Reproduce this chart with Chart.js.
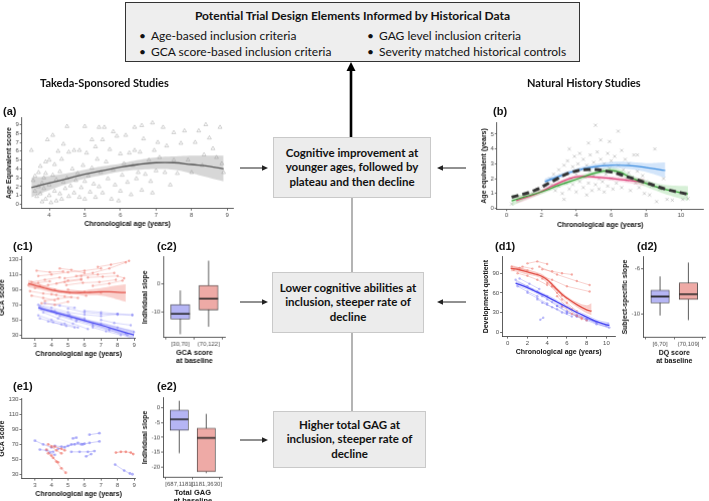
<!DOCTYPE html>
<html>
<head>
<meta charset="utf-8">
<title>Historical data and trial design</title>
<script src="https://cdn.jsdelivr.net/npm/chart.js@4.4.1/dist/chart.umd.min.js"></script>
<style>
  body { margin: 0; width: 709px; height: 501px; position: relative; overflow: hidden; background: #fff; font-family: Lato, 'Open Sans', sans-serif; color: #111; }
  canvas { position: absolute; }
  #arrows { position: absolute; left: 0; top: 0; }
  .box { position: absolute; box-sizing: border-box; background: #ececec; border: 1px solid #c9c9c9; font-weight: bold; font-size: 11.5px; line-height: 14.5px; text-align: center; display: flex; align-items: center; justify-content: center; }
  #top { position: absolute; left: 125px; top: 2px; width: 455px; height: 60px; box-sizing: border-box; background: #eeeeee; border: 1.5px solid #333; }
  #top .title { position: absolute; left: 0; right: 0; top: 4.5px; text-align: center; font-weight: bold; font-size: 12px; }
  #top .item { position: absolute; font-size: 12px; white-space: nowrap; }
  #top .item:before { content: '\2022'; position: absolute; left: -12px; }
  .lbl { position: absolute; font-family: 'Liberation Sans', Arial, sans-serif; font-weight: bold; font-size: 11px; line-height: 12px; }
  .head { position: absolute; font-weight: bold; font-size: 11px; white-space: nowrap; }
</style>
</head>
<body>
<canvas id="pa"></canvas>
<canvas id="pb"></canvas>
<canvas id="pc1"></canvas>
<canvas id="pc2"></canvas>
<canvas id="pd1"></canvas>
<canvas id="pd2"></canvas>
<canvas id="pe1"></canvas>
<canvas id="pe2"></canvas>

<svg id="arrows" width="709" height="501">
  <line x1="351" y1="137" x2="351" y2="70" stroke="#000" stroke-width="2.6"/>
  <polygon points="351,62 346.5,71 355.5,71" fill="#000"/>
  <line x1="352" y1="198" x2="352" y2="272" stroke="#8c8c8c" stroke-width="1.3"/>
  <line x1="352" y1="333" x2="352" y2="411" stroke="#8c8c8c" stroke-width="1.3"/>
  <line x1="240" y1="168" x2="263" y2="168" stroke="#222" stroke-width="1"/>
  <polygon points="268,168 262,165.3 262,170.7" fill="#222"/>
  <line x1="240" y1="302" x2="263" y2="302" stroke="#222" stroke-width="1"/>
  <polygon points="268,302 262,299.3 262,304.7" fill="#222"/>
  <line x1="240" y1="440" x2="263" y2="440" stroke="#222" stroke-width="1"/>
  <polygon points="268,440 262,437.3 262,442.7" fill="#222"/>
  <line x1="466" y1="168" x2="442" y2="168" stroke="#222" stroke-width="1"/>
  <polygon points="437,168 443,165.3 443,170.7" fill="#222"/>
  <line x1="466" y1="302" x2="442" y2="302" stroke="#222" stroke-width="1"/>
  <polygon points="437,302 443,299.3 443,304.7" fill="#222"/>
</svg>

<div id="top">
  <div class="title">Potential Trial Design Elements Informed by Historical Data</div>
  <div class="item" style="left:25px; top:25px;">Age-based inclusion criteria</div>
  <div class="item" style="left:25px; top:41px;">GCA score-based inclusion criteria</div>
  <div class="item" style="left:253px; top:25px;">GAG level inclusion criteria</div>
  <div class="item" style="left:253px; top:41px;">Severity matched historical controls</div>
</div>

<div class="head" style="left:40px; top:76px;">Takeda-Sponsored Studies</div>
<div class="head" style="left:527px; top:76px;">Natural History Studies</div>

<div class="box" style="left:273px; top:137px; width:158px; height:61px;">Cognitive improvement at<br>younger ages, followed by<br>plateau and then decline</div>
<div class="box" style="left:272px; top:272px; width:152px; height:61px;">Lower cognitive abilities at<br>inclusion, steeper rate of<br>decline</div>
<div class="box" style="left:273px; top:411px; width:153px; height:57px;">Higher total GAG at<br>inclusion, steeper rate of<br>decline</div>

<div class="lbl" style="left:3px; top:105px;">(a)</div>
<div class="lbl" style="left:493px; top:105px;">(b)</div>
<div class="lbl" style="left:13px; top:240px;">(c1)</div>
<div class="lbl" style="left:157px; top:240px;">(c2)</div>
<div class="lbl" style="left:495px; top:240px;">(d1)</div>
<div class="lbl" style="left:637px; top:240px;">(d2)</div>
<div class="lbl" style="left:13px; top:380px;">(e1)</div>
<div class="lbl" style="left:157px; top:380px;">(e2)</div>

<script>
// ---------- (a) Takeda studies: age equivalent score ----------
const aPoints = [[3.5,6.1],[3.55,2.7],[3.6,3.2],[3.6,1.5],[3.65,0.9],[3.7,2.0],[3.7,3.6],[3.75,1.2],[3.75,4.3],[3.8,0.3],
  [3.8,2.4],[3.85,3.0],[3.85,1.8],[3.9,4.8],[3.9,0.6],[3.9,3.5],[3.95,7.3],[4.0,2.2],[4.0,1.0],[4.0,5.0],[4.05,0.2],
  [4.1,3.3],[4.1,7.8],[4.15,1.5],[4.15,4.5],[4.2,2.8],[4.2,0.4],[4.25,6.0],[4.3,1.2],[4.3,3.7],[4.35,0.6],[4.35,5.1],
  [4.4,2.5],[4.4,6.8],[4.45,1.8],[4.5,8.8],[4.5,3.0],[4.55,0.9],[4.55,5.9],[4.6,2.1],[4.65,4.0],[4.7,1.3],[4.7,6.1],
  [4.75,2.7],[4.8,3.5],[4.85,0.8],[4.85,6.1],[4.9,1.9],[4.95,4.4],[5.0,8.8],[5.0,0.6],[5.0,2.6],[5.05,5.8],[5.1,3.2],
  [5.15,1.4],[5.2,4.1],[5.2,7.3],[5.25,2.3],[5.3,0.8],[5.3,6.5],[5.35,5.1],[5.4,8.7],[5.4,2.0],[5.45,3.6],[5.5,7.3],
  [5.5,1.3],[5.55,8.7],[5.6,4.8],[5.65,2.9],[5.7,6.2],[5.75,0.6],[5.8,8.2],[5.8,3.9],[5.85,2.2],[5.9,7.7],[5.95,0.4],
  [6.0,5.7],[6.0,1.5],[6.05,3.3],[6.1,4.6],[6.15,7.8],[6.2,2.5],[6.25,5.8],[6.3,1.1],[6.35,4.4],[6.4,8.7],[6.4,6.1],
  [6.45,2.9],[6.5,3.6],[6.55,5.9],[6.6,8.9],[6.6,1.6],[6.65,7.4],[6.7,3.4],[6.8,5.0],[6.85,2.6],[6.9,9.2],[6.9,1.3],
  [6.95,6.1],[7.0,3.8],[7.05,7.0],[7.1,5.3],[7.2,8.7],[7.25,3.6],[7.3,6.6],[7.4,2.2],[7.5,8.1],[7.5,5.0],[7.6,3.5],
  [7.7,6.9],[7.8,8.3],[7.9,5.0],[8.0,3.6],[8.1,7.0],[8.2,8.3],[8.3,4.4],[8.35,5.6],[8.4,9.0],[8.5,7.5],[8.6,6.3],
  [8.7,5.3],[8.8,8.7],[8.85,4.6],[8.9,3.6]];
const aFitX = [3.5, 4, 4.5, 5, 5.5, 6, 6.5, 7, 7.5, 8, 8.5, 8.9];
const aFitY = [1.9, 2.4, 2.9, 3.4, 3.8, 4.2, 4.5, 4.7, 4.7, 4.5, 4.3, 4.0];
const aLoY  = [0.8, 1.6, 2.3, 2.9, 3.3, 3.7, 3.9, 4.0, 3.9, 3.5, 3.0, 2.6];
const aHiY  = [3.0, 3.2, 3.5, 3.9, 4.3, 4.6, 5.0, 5.3, 5.4, 5.5, 5.5, 5.5];
const aXTicks = [4, 5, 6, 7, 8, 9];
const aYTicks = [0, 1, 2, 3, 4, 5, 6, 7, 8, 9];

// ---------- (b) natural history: age equivalent ----------
const bPoints = [[2.1,1.5],[2.3,1.8],[2.4,1.3],[2.5,2.0],[2.6,1.6],[2.7,2.3],[2.8,1.2],[2.9,1.9],[3.0,2.6],[3.0,1.5],
  [3.1,2.2],[3.2,1.0],[3.3,0.6],[3.3,2.9],[3.4,1.7],[3.5,2.4],[3.5,3.2],[3.6,1.3],[3.6,4.0],[3.7,2.0],[3.8,2.8],
  [3.8,1.6],[3.9,3.5],[4.0,2.3],[4.0,1.1],[4.1,3.0],[4.2,3.7],[4.2,1.8],[4.3,2.6],[4.4,1.4],[4.4,3.3],[4.5,2.1],
  [4.6,2.9],[4.6,0.9],[4.7,4.4],[4.7,1.7],[4.8,2.5],[4.8,3.6],[4.9,1.2],[5.0,2.2],[5.0,3.1],[5.1,1.6],[5.1,5.6],
  [5.2,2.8],[5.2,3.8],[5.3,1.3],[5.3,2.0],[5.4,4.6],[5.4,3.3],[5.5,1.8],[5.5,2.6],[5.6,1.1],[5.6,3.0],[5.7,2.3],
  [5.8,3.7],[5.8,1.5],[5.9,4.5],[5.9,2.7],[6.0,2.0],[6.0,3.2],[6.1,1.3],[6.2,2.5],[6.2,3.5],[6.3,1.7],[6.4,5.2],
  [6.4,2.9],[6.5,2.2],[6.6,3.9],[6.6,1.4],[6.7,2.6],[6.8,3.3],[6.9,1.9],[7.0,2.4],[7.0,3.0],[7.1,1.2],[7.2,2.1],
  [7.3,3.6],[7.4,1.7],[7.5,3.6],[7.5,2.5],[7.6,1.4],[7.8,2.2],[7.9,1.0],[8.0,1.8],[8.2,0.9],[8.3,1.5],[8.5,4.0],
  [8.6,0.45],[8.8,1.3],[9.0,2.0],[9.2,0.6],[9.5,0.55],[10.1,0.6],[10.4,0.65],[0.3,0.3],[1.0,0.8],[1.5,1.0],[1.8,1.3]];
const bDashX = [0.3, 1.6, 2.65, 3.65, 4.75, 6.0, 7.0, 8.05, 9.2, 10.4];
const bDashY = [0.75, 1.2, 1.83, 2.4, 2.62, 2.44, 2.1, 1.7, 1.27, 0.95];
const bBlueX = [2.2, 3, 4, 5, 6, 7, 8, 9.1];
const bBlueY = [1.8, 2.15, 2.55, 2.8, 2.9, 2.88, 2.75, 2.55];
const bBlueLo = [1.6, 2.0, 2.42, 2.65, 2.7, 2.65, 2.45, 2.05];
const bBlueHi = [2.0, 2.3, 2.68, 2.95, 3.12, 3.12, 3.05, 3.1];
const bGreenX = [0.3, 1, 2, 3, 4, 5, 5.9, 6.5, 7.05, 7.8, 9, 10.4];
const bGreenY = [0.5, 0.75, 1.1, 1.55, 1.95, 2.35, 2.56, 2.44, 2.1, 1.76, 1.3, 0.97];
const bGreenLo = [0.15, 0.55, 0.95, 1.4, 1.8, 2.2, 2.38, 2.25, 1.9, 1.55, 1.0, 0.5];
const bGreenHi = [0.9, 0.95, 1.25, 1.7, 2.1, 2.5, 2.74, 2.63, 2.3, 1.97, 1.6, 1.5];
const bPinkX = [0.57, 1.7, 2.7, 3.6, 4.2, 5.1, 6.1, 7.05, 7.9];
const bPinkY = [0.52, 0.97, 1.54, 2.0, 2.15, 2.1, 2.0, 1.88, 1.76];
const bPinkLo = [0.3, 0.82, 1.4, 1.87, 2.02, 1.97, 1.86, 1.7, 1.5];
const bPinkHi = [0.74, 1.12, 1.68, 2.13, 2.28, 2.23, 2.14, 2.06, 2.02];
const bXTicks = [0, 2, 4, 6, 8, 10];
const bYTicks = [0, 1, 2, 3, 4, 5];

// ---------- (c1) GCA score trajectories by baseline group ----------
const c1RedSubjects = [
  [[5.5,108],[6.5,112],[7.5,118],[8.5,126]], [[4.5,118],[5.2,116],[6,112]], [[3.2,108],[4,110],[5,113],[6,115],[7,118]],
  [[4.8,105],[5.8,108],[6.8,110],[7.8,112]], [[2.8,100],[3.6,103],[4.5,106]], [[3,92],[3.8,96],[4.8,100],[5.8,103]],
  [[2.7,88],[3.5,85],[4.3,83]], [[3.3,95],[4.2,90],[5.1,86],[6.1,82]], [[2.8,82],[3.5,79],[4.2,76]],
  [[3.6,75],[4.4,78],[5.2,80]], [[4.9,96],[5.9,99],[6.9,100],[7.9,103]], [[6.2,106],[7.1,107],[8,108],[8.4,105]],
  [[3.1,115],[3.9,113],[4.7,114]], [[5,90],[6,87],[7,86]], [[3.4,72],[4.2,70],[5,74]], [[6.5,95],[7.5,98],[8.3,102]],
  [[2.6,96],[3.2,99],[3.9,101]], [[4,84],[4.8,81],[5.6,79]], [[6.8,120],[7.6,123],[8.7,128]], [[4.3,98],[5,102],[5.8,104]]];
const c1BlueSubjects = [
  [[3.2,70],[4,66],[5,60],[6,57],[7,55],[8,58],[8.9,57]], [[3.3,68],[4.2,62],[5.1,57],[6,52]],
  [[3.5,60],[4.4,52],[5.3,45],[6.2,38]], [[3.2,56],[4,50],[4.8,45],[5.6,40]], [[4,62],[5,56],[6,50],[7,45],[8,40],[9,34]],
  [[5,65],[6,60],[7,58],[8,57],[8.9,56]], [[3.8,48],[4.6,44],[5.4,40]], [[5.5,50],[6.5,44],[7.5,38],[8.5,32]],
  [[6,62],[7,60],[8,58]], [[3.4,64],[4.3,58],[5.2,52]], [[6.5,40],[7.3,35],[8.2,30]],
  [[4.5,55],[5.5,48],[6.5,42],[7.5,36],[8.6,30]], [[3.3,52],[4.1,47],[4.9,42]], [[3.6,72],[4.5,69],[5.4,66]],
  [[7,50],[7.8,46],[8.8,43]]];
const c1RedX  = [2.6, 3, 3.5, 4, 4.5, 5, 5.5, 6, 6.5, 7, 7.5, 8, 8.5];
const c1RedY  = [98, 95.5, 92.5, 89.5, 87.5, 86.5, 86, 86, 86.5, 87, 87, 86.5, 86];
const c1RedLo = [93, 91.5, 89, 86.5, 85, 84, 83.5, 83, 82.5, 82, 80, 77, 74];
const c1RedHi = [103, 99.5, 96, 92.5, 90, 89, 88.5, 89, 90.5, 92, 94, 95.5, 97];
const c1BlueX  = [3.2, 4, 5, 6, 7, 8, 9];
const c1BlueY  = [66, 61, 55, 49, 43, 36.5, 30];
const c1BlueLo = [63, 58.5, 52.5, 46.5, 39.5, 32, 24];
const c1BlueHi = [69, 63.5, 57.5, 51.5, 46.5, 41, 36];
const c1XTicks = [3, 4, 5, 6, 7, 8, 9];
const c1YTicks = [30, 50, 70, 90, 110, 130];

// ---------- (c2) individual slope by GCA at baseline ----------
const c2Groups = ['[30,70]', '(70,122]'];
const c2Q1  = [-12.4, -9.2];
const c2Q3  = [-7.3, -0.6];
const c2Med = [-10.6, -5.3];
const c2Lo  = [-17.7, -15.1];
const c2Hi  = [-2.4, 8.0];
const c2YTicks = [-10, 0];

// ---------- (d1) development quotient trajectories ----------
const d1RedSubjects = [
  [[0.6,95],[1.5,100],[2.5,97]], [[2,105],[3,108],[4,104]], [[3.5,96],[4.5,93],[5.5,90],[6.5,88]],
  [[3,88],[4.5,80],[6,70],[8.3,62]], [[4,75],[5,60],[6,45],[7,32]], [[4.5,70],[5.5,50],[6.5,35],[7.5,22]],
  [[1,90],[2,86],[3,80],[4,72]], [[5,55],[6,38],[7,25],[8,18]], [[3.5,82],[4.5,70],[5.5,56]],
  [[5.5,40],[6.5,28],[7.5,20]], [[0.4,100],[1.2,98],[2,94]], [[3.2,100],[5,88],[7,78],[8.3,72]]];
const d1BlueSubjects = [
  [[0.8,80],[2,70],[3,62],[4,55]], [[1,70],[2,62],[3,55]], [[2.5,65],[3.5,55],[4.5,46],[5.5,38]],
  [[3,50],[4,42],[5,35],[6,28]], [[4,50],[5,40],[6,30],[7,24]], [[5,40],[6,32],[7,26],[8,21],[9,15]],
  [[6,30],[7,25],[8,20],[9,14],[10,10]], [[7,24],[8,18],[9,12],[10.3,7]], [[2,60],[3,52],[4,44]],
  [[3.5,45],[4.5,38],[5.5,30],[6.5,24]], [[8,20],[9,16],[10.2,12]], [[3.3,19],[3.6,22]], [[1.2,82],[2.2,74],[3.2,66]]];
const d1RedX  = [0.3, 1, 2, 3, 3.5, 4, 4.5, 5, 5.5, 6, 7, 8, 8.5];
const d1RedY  = [97.5, 96, 92, 88, 85, 80, 73, 65, 58, 52, 42, 34, 32];
const d1RedLo = [93, 92, 88, 84.5, 81.5, 77, 70, 62, 55, 49, 38, 29, 26];
const d1RedHi = [102, 100, 96, 91.5, 88.5, 83, 76, 68, 61, 55, 46, 41, 44];
const d1BlueX  = [0.8, 2, 3, 4, 5, 6, 7, 8, 9, 10.3];
const d1BlueY  = [75, 68, 61, 54, 46, 38, 30, 23, 16, 10];
const d1BlueLo = [71, 65, 58, 51, 43, 35, 27, 19.5, 12.5, 5];
const d1BlueHi = [79, 71, 64, 57, 49, 41, 33, 26.5, 19.5, 15];
const d1XTicks = [0, 2, 4, 6, 8, 10];
const d1YTicks = [0, 30, 60, 90];

// ---------- (d2) subject-specific slope by DQ at baseline ----------
const d2Groups = ['[6,70]', '(70,109]'];
const d2Q1  = [-9.0, -8.7];
const d2Q3  = [-7.9, -7.26];
const d2Med = [-8.45, -8.25];
const d2Lo  = [-10.1, -10.5];
const d2Hi  = [-6.7, -5.5];
const d2YTicks = [-10, -6];

// ---------- (e1) GCA score trajectories by total GAG ----------
const e1BlueSubjects = [
  [[3.0,75],[3.5,70],[4.0,66]], [[3.3,63],[3.7,62],[4.1,60]], [[4.2,68],[4.6,67],[5.0,68],[5.4,70],[5.8,70]],
  [[4.4,64],[4.8,66],[5.2,70],[5.6,72],[6.0,71]], [[5.3,78],[5.5,79]], [[5.9,70],[6.3,72],[6.9,74]],
  [[6.3,83],[6.9,85]], [[5.2,60],[5.7,60],[6.2,60],[6.6,61]], [[6.1,54],[6.4,57]],
  [[7.85,43],[8.4,35],[8.75,31]], [[3.9,59],[4.2,56]], [[8.9,30]]];
const e1RedSubjects = [
  [[3.8,70],[4.2,67],[4.6,64],[4.8,62]], [[3.7,63],[4.0,55],[4.3,47],[4.6,38],[4.86,32]],
  [[3.8,58],[4.1,52],[4.4,46]], [[4.0,67],[4.3,62],[4.6,58]], [[7.9,59],[8.2,60],[8.5,60],[8.8,59],[8.95,57]]];

// ---------- (e2) individual slope by total GAG at baseline ----------
const e2Groups = ['[687,1181]', '(1181,3630]'];
const e2Q1  = [-7.6, -21.5];
const e2Q3  = [-0.8, -6.9];
const e2Med = [-3.9, -10.2];
const e2Lo  = [-15.3, -22];
const e2Hi  = [2.3, -2.1];
const e2YTicks = [-20, -15, -10, -5, 0];

const RED = '#e2564d', BLUE = '#4d4df2';
const RED_SOFT = 'rgba(238,120,110,0.55)', BLUE_SOFT = 'rgba(125,125,245,0.5)';
const BOX_FILL = ['#b5b5f4', '#eeaaa6'];

Chart.defaults.font.family = "'Liberation Sans', Arial, sans-serif";
Chart.defaults.animation = false;
Chart.defaults.events = [];
Chart.defaults.plugins.legend.display = false;
Chart.defaults.plugins.tooltip.enabled = false;

function xyOf(xs, ys) { return xs.map((x, i) => ({x: x, y: ys[i]})); }
function pairs(list) { return list.map(p => ({x: p[0], y: p[1]})); }

function axis(min, max, ticks, title, labels, titleSize) {
  return {
    type: 'linear', min: min, max: max, offset: false,
    afterBuildTicks: s => { s.ticks = ticks.map(v => ({value: v})); },
    ticks: {font: {size: 6}, color: '#4d4d4d', padding: 1, maxRotation: 0, autoSkip: false,
            callback: (v, i) => labels ? labels[i] : v},
    grid: {drawOnChartArea: false, tickLength: 2, color: '#333', lineWidth: 0.7},
    border: {color: '#333', width: 0.8},
    title: {display: true, text: title, color: '#111',
            font: {size: titleSize || 7, weight: 'bold', lineHeight: titleSize ? 1.05 : 1.2},
            padding: {top: 0, bottom: 1}}
  };
}

function fitLine(xs, ys, color, width, dash) {
  return {type: 'line', data: xyOf(xs, ys), borderColor: color, borderWidth: width || 1.3,
          borderDash: dash || [], pointRadius: 0, tension: 0.4, fill: false};
}
function band(xs, lo, hi, color) {
  return [
    {type: 'line', data: xyOf(xs, lo), borderWidth: 0, borderColor: 'transparent', pointRadius: 0, tension: 0.4, fill: false},
    {type: 'line', data: xyOf(xs, hi), borderWidth: 0, borderColor: 'transparent', pointRadius: 0, tension: 0.4,
     fill: '-1', backgroundColor: color}
  ];
}
function subjects(list, color, r) {
  return list.map(pts => ({type: 'line', data: pairs(pts), borderColor: color, borderWidth: 0.6,
    pointRadius: r || 1.2, pointBackgroundColor: color, pointBorderWidth: 0, tension: 0, fill: false}));
}
function boxSets(q1, q3, med, lo, hi, thick) {
  const xs = [1, 2];
  return [
    {type: 'scatter', data: xyOf(xs, med), pointStyle: 'line', pointRadius: thick / 2,
     borderColor: '#222', borderWidth: 1.6},
    {type: 'bar', data: xs.map((x, i) => ({x: x, y: [q1[i], q3[i]]})), backgroundColor: BOX_FILL,
     borderColor: '#333', borderWidth: 0.8, borderSkipped: false, barThickness: thick, grouped: false},
    {type: 'line', data: [{x: 1, y: lo[0]}, {x: 1, y: hi[0]}], borderColor: '#333', borderWidth: 0.8, pointRadius: 0},
    {type: 'line', data: [{x: 2, y: lo[1]}, {x: 2, y: hi[1]}], borderColor: '#333', borderWidth: 0.8, pointRadius: 0}
  ];
}

// area = [left, top, right, bottom] of the plot region on the page
function panel(id, area, type, datasets, scales) {
  const cv = document.getElementById(id);
  cv.width = area[2] - area[0] + 40;
  cv.height = area[3] - area[1] + 40;
  const chart = new Chart(cv, {
    type: type, data: {datasets: datasets},
    options: {responsive: false, maintainAspectRatio: false,
              layout: {padding: {top: 4, right: 2, left: 0, bottom: 0}}, scales: scales}
  });
  let ca = chart.chartArea;
  chart.resize(chart.width + (area[2] - area[0]) - (ca.right - ca.left),
               chart.height + (area[3] - area[1]) - (ca.bottom - ca.top));
  ca = chart.chartArea;
  cv.style.left = (area[0] - ca.left) + 'px';
  cv.style.top = (area[1] - ca.top) + 'px';
  return chart;
}

panel('pa', [22, 118, 232.5, 208], 'scatter', [
  fitLine(aFitX, aFitY, '#555', 1.3),
  ...band(aFitX, aLoY, aHiY, 'rgba(150,150,150,0.38)'),
  {type: 'scatter', data: pairs(aPoints), pointStyle: 'triangle', pointRadius: 2.2,
   borderColor: 'rgba(110,110,110,0.45)', backgroundColor: 'transparent', borderWidth: 0.7}
], {
  x: axis(3.23, 9.17, aXTicks, 'Chronological age (years)'),
  y: axis(-0.47, 9.77, aYTicks, 'Age Equivalent score')
});

panel('pb', [497, 123, 703, 208.4], 'scatter', [
  fitLine(bDashX, bDashY, '#333', 3, [7, 4]),
  fitLine(bBlueX, bBlueY, '#3b8de0', 1.2),
  fitLine(bGreenX, bGreenY, '#33a033', 1.2),
  fitLine(bPinkX, bPinkY, '#e0407a', 1.2),
  ...band(bBlueX, bBlueLo, bBlueHi, 'rgba(110,170,240,0.3)'),
  ...band(bGreenX, bGreenLo, bGreenHi, 'rgba(110,200,110,0.28)'),
  ...band(bPinkX, bPinkLo, bPinkHi, 'rgba(235,110,160,0.25)'),
  {type: 'scatter', data: pairs(bPoints), pointStyle: 'crossRot', pointRadius: 2.2,
   borderColor: 'rgba(120,120,120,0.45)', borderWidth: 0.8}
], {
  x: axis(-0.55, 11.3, bXTicks, 'Chronological age (years)'),
  y: axis(-0.05, 5.76, bYTicks, 'Age equivalent (years)')
});

panel('pc1', [21.7, 256.7, 135, 338], 'scatter', [
  fitLine(c1RedX, c1RedY, RED, 1.3),
  fitLine(c1BlueX, c1BlueY, BLUE, 1.3),
  ...band(c1RedX, c1RedLo, c1RedHi, 'rgba(240,120,110,0.35)'),
  ...band(c1BlueX, c1BlueLo, c1BlueHi, 'rgba(120,120,250,0.3)'),
  ...subjects(c1RedSubjects, RED_SOFT),
  ...subjects(c1BlueSubjects, BLUE_SOFT)
], {
  x: axis(2.19, 9.1, c1XTicks, 'Chronological age (years)'),
  y: axis(25.1, 133.5, c1YTicks, 'GCA score')
});

panel('pc2', [163.3, 257, 224.9, 336.7], 'bar', boxSets(c2Q1, c2Q3, c2Med, c2Lo, c2Hi, 18.7), {
  x: axis(0.4, 2.6, [1, 2], ['GCA score', 'at baseline'], c2Groups),
  y: axis(-18.85, 9.28, c2YTicks, 'Individual slope')
});

panel('pd1', [501.7, 256.7, 614.9, 336.7], 'scatter', [
  fitLine(d1RedX, d1RedY, RED, 1.3),
  fitLine(d1BlueX, d1BlueY, BLUE, 1.3),
  ...band(d1RedX, d1RedLo, d1RedHi, 'rgba(240,120,110,0.35)'),
  ...band(d1BlueX, d1BlueLo, d1BlueHi, 'rgba(120,120,250,0.3)'),
  ...subjects(d1RedSubjects, RED_SOFT),
  ...subjects(d1BlueSubjects, BLUE_SOFT)
], {
  x: axis(-0.57, 10.9, d1XTicks, 'Chronological age (years)'),
  y: axis(-6.7, 115.3, d1YTicks, 'Development quotient')
});

panel('pd2', [643.3, 257, 705.6, 336.7], 'bar', boxSets(d2Q1, d2Q3, d2Med, d2Lo, d2Hi, 18.4), {
  x: axis(0.4, 2.6, [1, 2], ['DQ score', 'at baseline'], d2Groups),
  y: axis(-11.99, -5.01, d2YTicks, 'Subject-specific slope')
});

panel('pe1', [21.7, 398.3, 135, 478.3], 'scatter', [
  ...subjects(e1RedSubjects, 'rgba(238,110,100,0.65)', 1.4),
  ...subjects(e1BlueSubjects, 'rgba(125,125,245,0.6)', 1.4)
], {
  x: axis(2.19, 9.1, c1XTicks, 'Chronological age (years)'),
  y: axis(24.2, 131.3, c1YTicks, 'GCA score')
});

panel('pe2', [163.3, 398, 222.7, 476.7], 'bar', boxSets(e2Q1, e2Q3, e2Med, e2Lo, e2Hi, 18.3), {
  x: axis(0.4, 2.6, [1, 2], ['Total GAG', 'at baseline'], e2Groups, 7.5),
  y: axis(-23.4, 3.29, e2YTicks, 'Individual slope')
});
</script>
</body>
</html>
